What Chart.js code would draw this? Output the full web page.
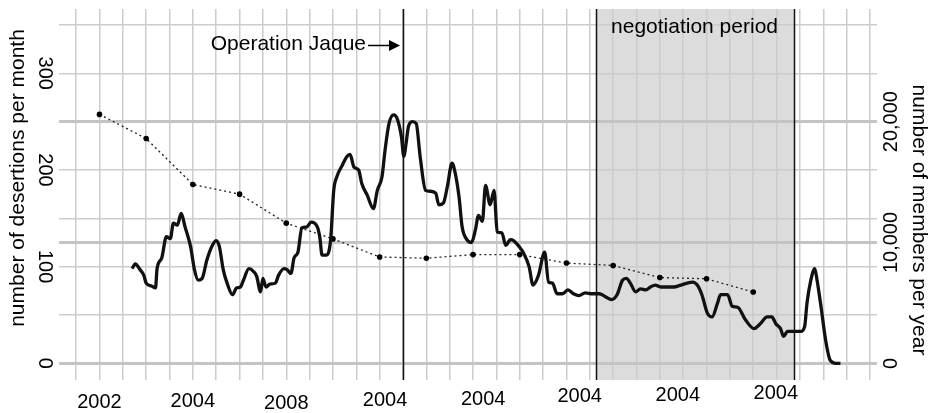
<!DOCTYPE html>
<html>
<head>
<meta charset="utf-8">
<script src="https://cdn.jsdelivr.net/npm/chart.js@4.4.0/dist/chart.umd.min.js"></script>
<style>
  html, body { margin: 0; padding: 0; background: #fff; }
  #wrap { width: 933px; height: 413px; position: relative; }
</style>
</head>
<body>
<div id="wrap"><canvas id="chart"></canvas></div>
<script>
// --- data -----------------------------------------------------------------
// x unit = months from the start of the series window

// desertions per month (month, count)
const desertionMonths = [
  7.2, 7.6, 8.2, 8.7, 9.0, 9.7, 10.2, 10.4, 11.0, 11.6,
  12.1, 12.5, 13.0, 13.5, 14.0, 14.7, 15.2, 15.7, 16.2, 16.8,
  17.5, 18.0, 18.4, 18.9, 19.4, 20.1, 20.6, 21.1, 21.5, 22.2,
  22.8, 23.2, 23.7, 24.0, 24.4, 24.9, 25.6, 26.0, 26.7, 27.1,
  27.6, 28.0, 28.5, 29.0, 29.6, 30.2, 31.0, 31.3, 31.6, 32.2,
  32.7, 33.1, 33.5, 34.2, 34.8, 35.2, 35.7, 36.3, 36.7, 37.4,
  38.2, 38.7, 39.3, 39.7, 40.2, 40.8, 41.3, 41.8, 42.1, 42.4,
  42.7, 43.2, 43.7, 44.2, 44.9, 45.5, 46.2, 46.6, 47.2, 47.7,
  48.3, 48.7, 49.2, 49.6, 50.2, 50.8, 51.3, 51.7, 52.2, 52.6,
  53.2, 53.7, 54.1, 54.7, 55.2, 55.8, 56.2, 56.9, 57.5, 58.2,
  58.7, 59.4, 60.2, 60.7, 61.2, 61.8, 62.5, 63.2, 63.9, 64.6,
  65.4, 66.3, 67.2, 68.0, 68.8, 69.5, 70.2, 70.7, 71.2, 71.9,
  72.5, 73.2, 73.8, 74.4, 75.1, 76.0, 76.8, 77.7, 79.2, 79.8,
  80.4, 81.1, 81.7, 82.4, 82.8, 83.7, 84.3, 85.0, 86.0, 87.1,
  87.9, 88.8, 89.4, 89.9, 90.5, 90.9, 91.4, 92.2, 93.1, 93.6,
  93.9, 94.4, 94.9, 95.2, 95.7, 96.3, 96.9, 97.6, 98.2
];
const desertionCounts = [
  98, 103, 97, 91, 83, 80, 78, 98, 109, 131,
  129, 145, 143, 155, 141, 121, 97, 86, 88, 107,
  122, 127, 121, 97, 83, 71, 78, 79, 86, 98,
  95, 90, 74, 88, 79, 82, 83, 91, 98, 97,
  93, 109, 115, 140, 141, 146, 141, 131, 112, 112,
  128, 179, 193, 205, 214, 216, 203, 200, 186, 174,
  160, 179, 193, 221, 248, 257, 252, 234, 214, 228,
  245, 250, 248, 214, 179, 178, 176, 164, 166, 183,
  207, 197, 172, 141, 128, 125, 138, 153, 147, 184,
  164, 179, 136, 135, 122, 128, 127, 121, 114, 100,
  81, 91, 115, 84, 83, 72, 72, 76, 72, 70,
  73, 72, 72, 69, 66, 71, 86, 88, 83, 74,
  77, 76, 79, 81, 79, 79, 79, 81, 84, 81,
  71, 52, 48, 62, 71, 71, 59, 58, 45, 36,
  41, 48, 48, 41, 36, 28, 33, 33, 33, 38,
  62, 86, 98, 86, 59, 24, 3, 0, 0
];

// members per year (right axis)
const memberMonths = [3, 9, 15, 21, 27, 33, 39, 45, 51, 57, 63, 69, 75, 81, 87];
const memberCounts = [20600, 18600, 14800, 14000, 11600, 10300, 8800, 8700,
                      9000, 9000, 8300, 8100, 7100, 7000, 5900];

// tick labels
const xTickLabels = ['2002', '2004', '2008', '2004', '2004', '2004', '2004', '2004'];
const xLabelMonths = [3, 15, 27, 39.7, 52.3, 64.7, 77.3, 89.9];
const memberTicks = [0, 10000, 20000];

// events
const jaqueMonth = 42;
const negotiationStart = 66.8;
const negotiationEnd = 92.3;

// --- drawing --------------------------------------------------------------
const FONT = "'Liberation Sans', Arial, Helvetica, sans-serif";
const labelDrop = [22, 21, 23, 20, 19, 16, 15, 13]; // px below plot for each x label

const decorations = {
  id: 'decorations',
  beforeDraw(chart) {
    const { ctx, chartArea: a, scales: { x } } = chart;
    const x0 = x.getPixelForValue(negotiationStart);
    const x1 = x.getPixelForValue(negotiationEnd);
    ctx.save();
    ctx.fillStyle = '#dcdcdc';
    ctx.fillRect(x0, a.top, x1 - x0, a.bottom - a.top);
    ctx.restore();
  },
  beforeDatasetsDraw(chart) {
    const { ctx, chartArea: a, scales: { x } } = chart;
    ctx.save();
    ctx.strokeStyle = '#111';
    ctx.lineWidth = 1.5;
    [jaqueMonth, negotiationStart, negotiationEnd].forEach(m => {
      const px = Math.round(x.getPixelForValue(m)) + 0.5;
      ctx.beginPath();
      ctx.moveTo(px, a.top);
      ctx.lineTo(px, a.bottom);
      ctx.stroke();
    });
    ctx.restore();
  },
  afterDraw(chart) {
    const { ctx, scales: { x } } = chart;
    const jx = x.getPixelForValue(jaqueMonth);
    ctx.save();
    ctx.fillStyle = '#000';
    ctx.strokeStyle = '#000';
    ctx.font = '21px ' + FONT;
    ctx.textBaseline = 'alphabetic';

    // Operation Jaque + arrow
    ctx.textAlign = 'right';
    ctx.fillText('Operation Jaque', jx - 37, 50);
    ctx.lineWidth = 1.5;
    ctx.beginPath();
    ctx.moveTo(jx - 35, 45.5);
    ctx.lineTo(jx - 12, 45.5);
    ctx.stroke();
    ctx.beginPath();
    ctx.moveTo(jx - 3, 45.5);
    ctx.lineTo(jx - 14, 40);
    ctx.lineTo(jx - 14, 51);
    ctx.closePath();
    ctx.fill();

    // negotiation period
    ctx.textAlign = 'left';
    ctx.fillText('negotiation period', x.getPixelForValue(negotiationStart) + 15, 33);

    // axis titles
    ctx.textAlign = 'center';
    ctx.textBaseline = 'middle';
    ctx.save();
    ctx.translate(18, 178);
    ctx.rotate(-Math.PI / 2);
    ctx.fillText('number of desertions per month', 0, 0);
    ctx.restore();
    ctx.save();
    ctx.translate(919, 220);
    ctx.rotate(Math.PI / 2);
    ctx.fillText('number of members per year', 0, 0);
    ctx.restore();
    ctx.restore();
  }
};

const gridColor = '#cccccc';

new Chart(document.getElementById('chart'), {
  type: 'line',
  data: {
    datasets: [
      {
        label: 'desertions',
        data: desertionMonths.map((m, i) => ({ x: m, y: desertionCounts[i] })),
        xAxisID: 'x',
        yAxisID: 'y',
        borderColor: '#111',
        borderWidth: 3.3,
        pointRadius: 0,
        cubicInterpolationMode: 'monotone'
      },
      {
        label: 'members',
        data: memberMonths.map((m, i) => ({ x: m, y: memberCounts[i] })),
        xAxisID: 'x',
        yAxisID: 'y2',
        borderColor: '#222',
        borderWidth: 1.3,
        borderDash: [2, 3],
        pointRadius: 2.8,
        pointBorderWidth: 0,
        pointBackgroundColor: '#000',
        tension: 0
      }
    ]
  },
  options: {
    responsive: true,
    maintainAspectRatio: false,
    animation: false,
    events: [],
    layout: { padding: { top: 9, left: 0, right: 0, bottom: 0 } },
    plugins: { legend: { display: false }, tooltip: { enabled: false } },
    scales: {
      x: {
        type: 'linear',
        position: 'bottom',
        min: -2.2,
        max: 102.9,
        grid: { color: gridColor, lineWidth: 1.5, drawTicks: false },
        border: { display: false },
        ticks: { stepSize: 3, includeBounds: false, autoSkip: false, display: false },
        afterFit(s) { s.height = 0; s.paddingLeft = 0; s.paddingRight = 0; }
      },
      xLabels: {
        type: 'linear',
        position: 'bottom',
        min: -2.2,
        max: 102.9,
        grid: { display: false, drawTicks: false },
        border: { display: false },
        afterBuildTicks(s) { s.ticks = xLabelMonths.map(v => ({ value: v })); },
        ticks: {
          autoSkip: false,
          maxRotation: 0,
          padding: 0,
          color: '#000',
          font: c => ({ family: FONT, size: 20, lineHeight: (2 * (labelDrop[c.index] || 20)) + 'px' }),
          callback: (v, i) => xTickLabels[i]
        },
        afterFit(s) { s.height = 33; s.paddingLeft = 0; s.paddingRight = 0; }
      },
      y: {
        position: 'left',
        min: -17.2,
        max: 366.5,
        grid: { color: gridColor, lineWidth: 1.5, drawTicks: false },
        border: { display: false },
        ticks: {
          stepSize: 50,
          includeBounds: false,
          minRotation: -90,
          crossAlign: 'center',
          padding: -2,
          color: '#000',
          font: { family: FONT, size: 20 },
          callback: v => (v % 100 === 0 ? String(v) : '')
        },
        afterFit(s) { s.width = 59; s.paddingTop = 0; s.paddingBottom = 0; }
      },
      y2: {
        position: 'right',
        min: -1376,
        max: 29320,
        grid: { color: '#c4c4c4', lineWidth: 3, drawTicks: false },
        border: { display: false },
        afterBuildTicks(s) { s.ticks = memberTicks.map(v => ({ value: v })); },
        ticks: {
          autoSkip: false,
          minRotation: 90,
          crossAlign: 'center',
          padding: -16,
          color: '#000',
          font: { family: FONT, size: 20 },
          callback: v => v.toLocaleString('en-US')
        },
        afterFit(s) { s.width = 56; s.paddingTop = 0; s.paddingBottom = 0; }
      }
    }
  },
  plugins: [decorations]
});
</script>
</body>
</html>
